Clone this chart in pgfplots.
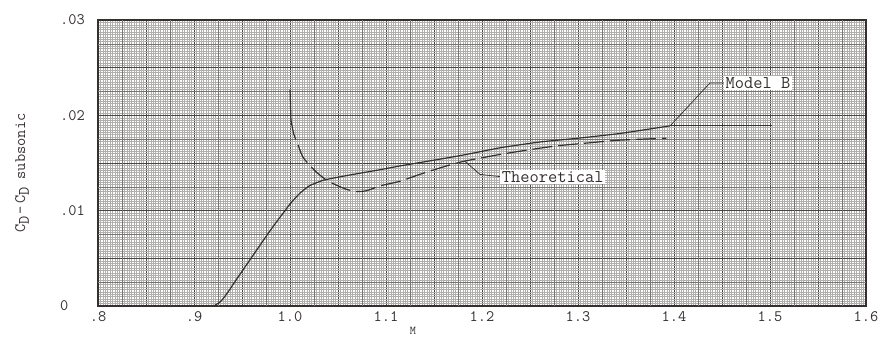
\documentclass[border=0pt]{standalone}
\usepackage{pgfplots}
\pgfplotsset{compat=1.18}

\definecolor{ink}{HTML}{353030}
\definecolor{gridfine}{HTML}{B3AEAE}
\definecolor{gridmid}{HTML}{797474}
\definecolor{gridbold}{HTML}{4A4545}

% typewriter lettering throughout
\newcommand{\tw}[1]{\ttfamily\fontsize{#1}{#1}\selectfont}
\newcommand{\sub}[1]{\raisebox{-0.55ex}{#1}}

\begin{document}
\begin{tikzpicture}
\begin{axis}[
  scale only axis,
  width=768bp, height=286bp,
  xmin=0.8, xmax=1.6, ymin=0, ymax=0.03,
  xtick={0.8,0.85,0.9,0.95,1.0,1.05,1.1,1.15,1.2,1.25,1.3,1.35,1.4,1.45,1.5,1.55,1.6},
  xticklabels={.8,,.9,,1.0,,1.1,,1.2,,1.3,,1.4,,1.5,,1.6},
  ytick={0,0.005,0.01,0.015,0.02,0.025,0.03},
  yticklabels={0,,.01,,.02,,.03},
  scaled x ticks=false, scaled y ticks=false,
  minor tick num=19,
  grid=both,
  minor grid style={gridfine, line width=0.25bp},
  major grid style={gridbold, line width=0.9bp},
  extra x ticks={0.825,0.875,0.925,0.975,1.025,1.075,1.125,1.175,1.225,1.275,1.325,1.375,1.425,1.475,1.525,1.575},
  extra x tick labels={},
  extra y ticks={0.0025,0.0075,0.0125,0.0175,0.0225,0.0275},
  extra y tick labels={},
  extra tick style={grid=major, major grid style={gridmid, line width=0.55bp}},
  major tick length=0pt, minor tick length=0pt,
  axis line style={ink, line width=1.3bp},
  tick label style={font=\tw{16}, text=ink},
  xticklabel style={yshift=-2bp},
  yticklabel style={anchor=west, xshift=-38bp, inner sep=0pt},
  clip=false,
]

% Model B
\addplot[ink, line width=1.2bp, smooth, tension=0.3] coordinates {
  (0.800,0) (0.915,0) (0.922,0.0001) (0.928,0.0005) (0.935,0.0014)
  (0.945,0.0029) (0.960,0.0051) (0.980,0.0080) (1.000,0.0107)
  (1.010,0.0118) (1.020,0.0126) (1.035,0.0132) (1.060,0.0137)
  (1.094,0.0143) (1.115,0.0147) (1.156,0.0154) (1.184,0.0159)
  (1.219,0.0166) (1.260,0.0172) (1.300,0.0176) (1.344,0.0181)
  (1.396,0.0189)
};
\addplot[ink, line width=0.9bp] coordinates {(1.396,0.0189) (1.502,0.0189)};

% Theoretical
\addplot[ink, line width=1.2bp] coordinates {(1.000,0.0227) (1.001,0.0195)};
\addplot[ink, line width=1.2bp, dash pattern=on 20bp off 6bp, smooth, tension=0.4] coordinates {
  (1.001,0.0195) (1.004,0.0180) (1.008,0.0170) (1.013,0.0157)
  (1.020,0.0148) (1.028,0.0140) (1.038,0.0132) (1.050,0.0126)
  (1.060,0.0122) (1.070,0.0120) (1.080,0.0121) (1.094,0.0126)
  (1.115,0.0131) (1.135,0.0138) (1.160,0.0146) (1.182,0.0152)
  (1.219,0.0159) (1.250,0.0164) (1.278,0.0168) (1.310,0.0171)
  (1.344,0.0174) (1.392,0.0176)
};

% leader lines and labels
\addplot[ink, line width=0.7bp] coordinates {(1.396,0.0189) (1.4375,0.0234) (1.452,0.0234)};
\addplot[ink, line width=0.7bp] coordinates {(1.182,0.0152) (1.198,0.0138) (1.219,0.01357)};
\node[anchor=west, fill=white, inner sep=1.5bp, text=ink, font=\tw{18}]
  at (axis cs:1.452,0.0234) {Model B};
\node[anchor=west, fill=white, inner sep=1.5bp, text=ink, font=\tw{18}]
  at (axis cs:1.219,0.01357) {Theoretical};

% axis titles
\node[rotate=90, text=ink, font=\tw{16}]
  at ([xshift=-76bp, yshift=-10bp]rel axis cs:0,0.5)
  {C\sub{D}\kern2bp-\kern2bp C\sub{D} subsonic};
\node[text=ink, font=\tw{12}, inner sep=1bp] at ([yshift=-25bp]axis cs:1.128,0) {M};
\end{axis}
\pgfresetboundingbox
\path ([shift={(-98bp,-34bp)}]current axis.south west) rectangle ([shift={(16bp,20bp)}]current axis.north east);
\end{tikzpicture}
\end{document}
